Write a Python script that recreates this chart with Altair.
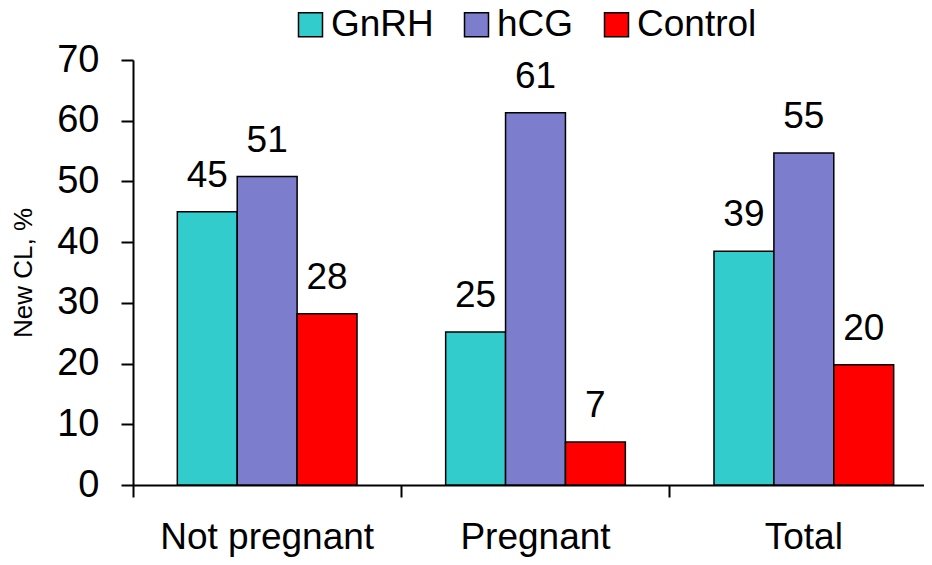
import altair as alt
import pandas as pd

categories = ["Not pregnant", "Pregnant", "Total"]
series = ["GnRH", "hCG", "Control"]
gnrh = [45.0, 25.2, 38.5]
hcg = [50.8, 61.3, 54.7]
control = [28.2, 7.1, 19.8]
gnrh_labels = ["45", "25", "39"]
hcg_labels = ["51", "61", "55"]
control_labels = ["28", "7", "20"]
colors = ["#33CCCC", "#7D7DCD", "#FF0000"]
y_ticks = [0, 10, 20, 30, 40, 50, 60, 70]

FONT = "Liberation Sans"

rows = []
for s, vals, labs in zip(series, [gnrh, hcg, control], [gnrh_labels, hcg_labels, control_labels]):
    for c, v, l in zip(categories, vals, labs):
        rows.append({"category": c, "series": s, "value": v, "label": l})
df = pd.DataFrame(rows)

x_enc = alt.X(
    "category:N",
    sort=categories,
    scale=alt.Scale(range=[0, 805], paddingInner=0, paddingOuter=0),
    axis=alt.Axis(
        title=None, bandPosition=0, labelOffset=0, labelAngle=0, labelLimit=0,
        labelFont=FONT, labelFontSize=37, labelColor="black", labelPadding=22,
        tickSize=12, tickWidth=2, tickColor="black",
        domainColor="black", domainWidth=2,
    ),
)
xoff_enc = alt.XOffset("series:N", sort=series, scale=alt.Scale(paddingOuter=0.74, paddingInner=0))
y_enc = alt.Y(
    "value:Q",
    scale=alt.Scale(domain=[0, 70], nice=False),
    axis=alt.Axis(
        values=y_ticks, grid=False, title="New CL, %",
        titleFont=FONT, titleFontSize=26, titleFontWeight="normal", titleColor="black", titlePadding=20,
        labelFont=FONT, labelFontSize=38, labelColor="black", labelPadding=22,
        tickSize=12, tickWidth=2, tickColor="black",
        domainColor="black", domainWidth=2,
    ),
)

bars = alt.Chart(df).mark_bar(stroke="black", strokeWidth=1.5).encode(
    x=x_enc,
    xOffset=xoff_enc,
    y=y_enc,
    color=alt.Color(
        "series:N", sort=series,
        scale=alt.Scale(domain=series, range=colors),
        legend=alt.Legend(
            orient="none", legendX=159, legendY=-54, direction="horizontal", title=None,
            symbolType="square", symbolSize=576, symbolStrokeColor="black", symbolStrokeWidth=1.5,
            symbolOpacity=1, labelFont=FONT, labelFontSize=37, labelColor="black", labelLimit=0,
            labelOffset=2, columnPadding=24, padding=0,
        ),
    ),
)

text = alt.Chart(df).mark_text(
    font=FONT, fontSize=37, baseline="alphabetic", dy=-25, color="black"
).encode(
    x=alt.X("category:N", sort=categories),
    xOffset=alt.XOffset("series:N", sort=series),
    y="value:Q",
    text="label:N",
)

chart = alt.layer(bars, text).properties(
    width=791, height=425,
    autosize=alt.AutoSizeParams(type="none"),
    padding={"left": 125, "top": 52, "right": 0, "bottom": 72},
).configure_view(stroke=None)

chart.save("out.html", embed_options={"renderer": "svg", "actions": False})
